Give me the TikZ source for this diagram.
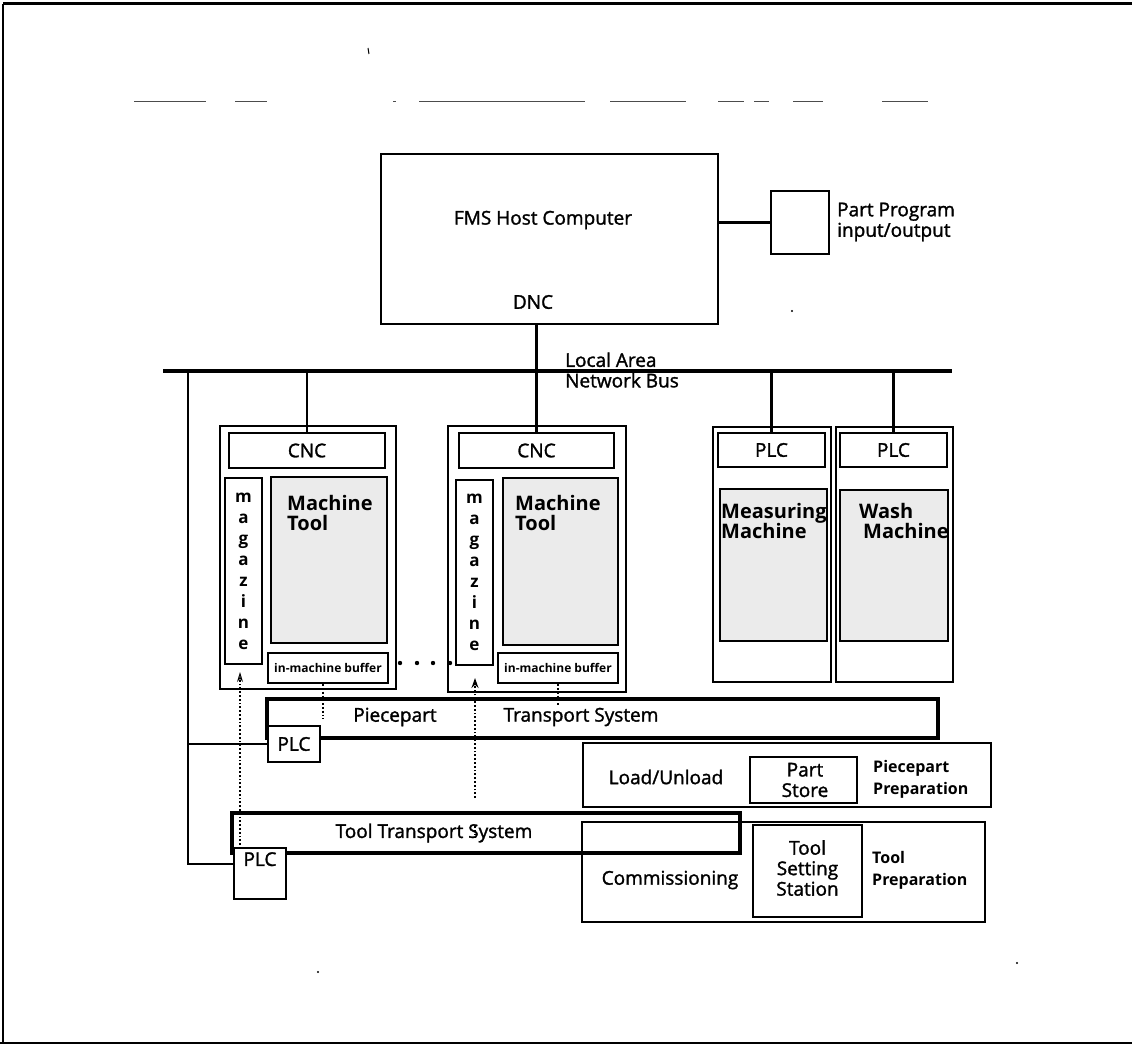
\documentclass[tikz,border=0pt]{standalone}
\usepackage{fontspec}
\setmainfont{Open Sans}
\newfontfamily\labelfont{Open Sans}[FakeBold=1.5]
\usetikzlibrary{arrows.meta}
\begin{document}
\begin{tikzpicture}[x=1pt,y=-1pt,
  box/.style={draw, line width=2.2pt, inner sep=0pt, rectangle},
  outer/.style={draw, line width=2.4pt, inner sep=0pt, rectangle},
  bar/.style={draw, line width=3.4pt, inner sep=0pt, rectangle},
  mach/.style={draw, line width=1.8pt, inner sep=0pt, rectangle, fill=black!8},
  plcbox/.style={draw, line width=2.2pt, inner sep=0pt, rectangle, fill=white},
  wire/.style={line width=2.6pt},
  buswire/.style={line width=3.4pt},
  lbl/.style={inner sep=0pt, font=\labelfont\fontsize{19}{20.5}\selectfont},
  blbl/.style={inner sep=0pt, font=\bfseries\fontsize{20}{20.5}\selectfont, align=left},
  slbl/.style={inner sep=0pt, font=\bfseries\fontsize{16}{22}\selectfont, align=left},
  buflbl/.style={inner sep=0pt, font=\bfseries\fontsize{12}{12}\selectfont},
  maglbl/.style={inner sep=0pt, font=\bfseries\fontsize{17}{21}\selectfont, align=center},
  dots/.style={line width=1.8pt, dotted},
  noise/.style={line width=1pt, black!70}
]
\useasboundingbox (0,0) rectangle (1132,1046);
% page frame
\draw[line width=3pt] (3,4) -- (1132,4);
\draw[line width=2pt] (3,4) -- (3,1043);
\draw[line width=2pt] (0,1043) -- (1132,1043);
% stray header marks
\foreach \a/\b in {134/206,235/267,393/396,419/585,610/686,718/744,754/769,793/823,882/928}
  \draw[noise] (\a,102) -- (\b,102);
\draw[line width=1pt] (368,48) -- (369,54);
\fill (792,311) circle (1.2);
\fill (318,972) circle (1.2);
\fill (1017,963) circle (1.2);

% host computer
\node[box, minimum width=337pt, minimum height=170pt] (host) at (549.5,239) {};
\node[lbl] (hostlbl) at (543,220) {FMS Host Computer};
\node[lbl] (dnc) at (533,302) {DNC};
\node[box, minimum width=58pt, minimum height=63pt] (pp) at (800,222.5) {};
\node[lbl, align=left, anchor=west] (pplbl) at (837,222) {Part Program\\input/output};
\draw[wire] (pp.west) -- (pp.west -| host.east);

% bus
\coordinate (busL) at (163,371);
\coordinate (busR) at (952,371);
\coordinate (lv) at (188,371);
\draw[buswire] (busL) -- (busR);
\node[lbl, align=left, anchor=west] (buslbl) at (565,370) {Local Area\\Network Bus};

% CNC station 1
\node[outer, minimum width=176pt, minimum height=263pt] (cnc1o) at (308,557.5) {};
\node[box, minimum width=156pt, minimum height=35pt] (cnc1) at (307,450.5) {};
\node[lbl] (cnc1t) at (cnc1) {CNC};
\node[box, minimum width=37pt, minimum height=186pt] (mag1) at (243.5,571) {};
\node[maglbl] (mag1t) at (243.5,571) {m\\a\\g\\a\\z\\i\\n\\e};
\node[mach, minimum width=116pt, minimum height=166pt] (mt1) at (329,560) {};
\node[blbl, anchor=north west] (mt1t) at (287,495) {Machine\\Tool};
\node[box, minimum width=120pt, minimum height=30pt] (buf1) at (328,668) {};
\node[buflbl] (buf1t) at (buf1) {in-machine buffer};

% CNC station 2
\node[outer, minimum width=178pt, minimum height=266pt] (cnc2o) at (537,559) {};
\node[box, minimum width=155pt, minimum height=35pt] (cnc2) at (536.5,450.5) {};
\node[lbl] (cnc2t) at (cnc2) {CNC};
\node[box, minimum width=37pt, minimum height=185pt] (mag2) at (474.5,572.5) {};
\node[maglbl] (mag2t) at (474.5,572) {m\\a\\g\\a\\z\\i\\n\\e};
\node[mach, minimum width=115pt, minimum height=167pt] (mt2) at (560.5,561.5) {};
\node[blbl, anchor=north west] (mt2t) at (515,495) {Machine\\Tool};
\node[box, minimum width=120pt, minimum height=30pt] (buf2) at (558,668) {};
\node[buflbl] (buf2t) at (buf2) {in-machine buffer};

% measuring machine
\node[outer, minimum width=118pt, minimum height=255pt] (measo) at (772,554.5) {};
\node[box, minimum width=107pt, minimum height=34pt] (measplc) at (771.5,450) {};
\node[lbl] (measplct) at (measplc) {PLC};
\node[mach, minimum width=107pt, minimum height=152pt] (meas) at (773.5,565) {};
\node[blbl, anchor=north west] (meast) at (721,503) {Measuring\\Machine};

% wash machine
\node[outer, minimum width=117pt, minimum height=255pt] (washo) at (894.5,554.5) {};
\node[box, minimum width=107pt, minimum height=34pt] (washplc) at (893.5,450) {};
\node[lbl] (washplct) at (washplc) {PLC};
\node[mach, minimum width=108pt, minimum height=151pt] (wash) at (894,565.5) {};
\node[blbl, anchor=north west] (washt) at (859,503) {Wash\\\hspace*{4pt}Machine};

% drops from bus
\draw[wire] (cnc1.north) -- (cnc1.north |- busL);
\draw[wire] (cnc2.north) -- (cnc2.north |- host.south);
\draw[wire] (measplc.north) -- (measplc.north |- busL);
\draw[wire] (washplc.north) -- (washplc.north |- busL);

% ellipsis between stations
\foreach \x in {400,417,433,450} \fill (\x,663) circle (2.2);

% piecepart transport
\node[bar, minimum width=671pt, minimum height=39pt] (ppt) at (602.5,718.5) {};
\node[lbl] (ppt1) at (395,717) {Piecepart};
\node[lbl] (ppt2) at (581,717) {Transport System};
\node[plcbox, minimum width=52pt, minimum height=36pt] (plc1) at (294,744) {};
\node[lbl] (plc1t) at (plc1) {PLC};

% load / unload
\node[box, line width=1.8pt, minimum width=408pt, minimum height=64pt] (load) at (787,775) {};
\node[lbl] (loadt) at (666,777) {Load/Unload};
\node[box, line width=1.8pt, minimum width=107pt, minimum height=46pt] (store) at (803.5,780) {};
\node[lbl, align=center] (storet) at (805,780) {Part\\Store};
\node[slbl, anchor=west] (pprep) at (873,779) {Piecepart\\Preparation};

% commissioning
\node[box, line width=1.8pt, minimum width=403pt, minimum height=100pt] (comm) at (783.5,872) {};
\node[lbl] (commt) at (670,880) {Commissioning};
\node[box, line width=2pt, minimum width=109pt, minimum height=92pt] (tss) at (807.5,871) {};
\node[lbl, align=center] (tsst) at (807.5,868) {Tool\\Setting\\Station};
\node[slbl, anchor=west] (tprep) at (872,870) {Tool\\Preparation};

% tool transport
\node[bar, minimum width=508pt, minimum height=40pt] (ttb) at (486,833) {};
\node[lbl] (ttbt) at (434,833) {Tool Transport System};
\node[plcbox, minimum width=52pt, minimum height=51pt] (plc2) at (260,873.5) {};
\node[lbl, anchor=north] (plc2t) at (260,852) {PLC};

% left bus branch
\draw[wire] (lv) |- ([yshift=9.5pt]plc2.west);
\draw[wire] (lv |- plc1.west) -- (plc1.west);

% dotted flows
\coordinate (a1s) at (240,845);
\coordinate (a1e) at (240,672);
\draw[dots, -{Stealth[length=10pt,width=6pt,open,line width=1pt]}] (a1s) -- (a1e);
\coordinate (a2s) at (475,798);
\coordinate (a2e) at (475,678);
\draw[dots, -{Stealth[length=10pt,width=7pt]}] (a2s) -- (a2e);
\draw[dots] (475,826) -- (475,838);
\draw[dots] ([xshift=-5pt]buf1.south) -- ++(0,35);
\draw[dots] (buf2.south) -- ++(0,22);
\end{tikzpicture}
\end{document}
